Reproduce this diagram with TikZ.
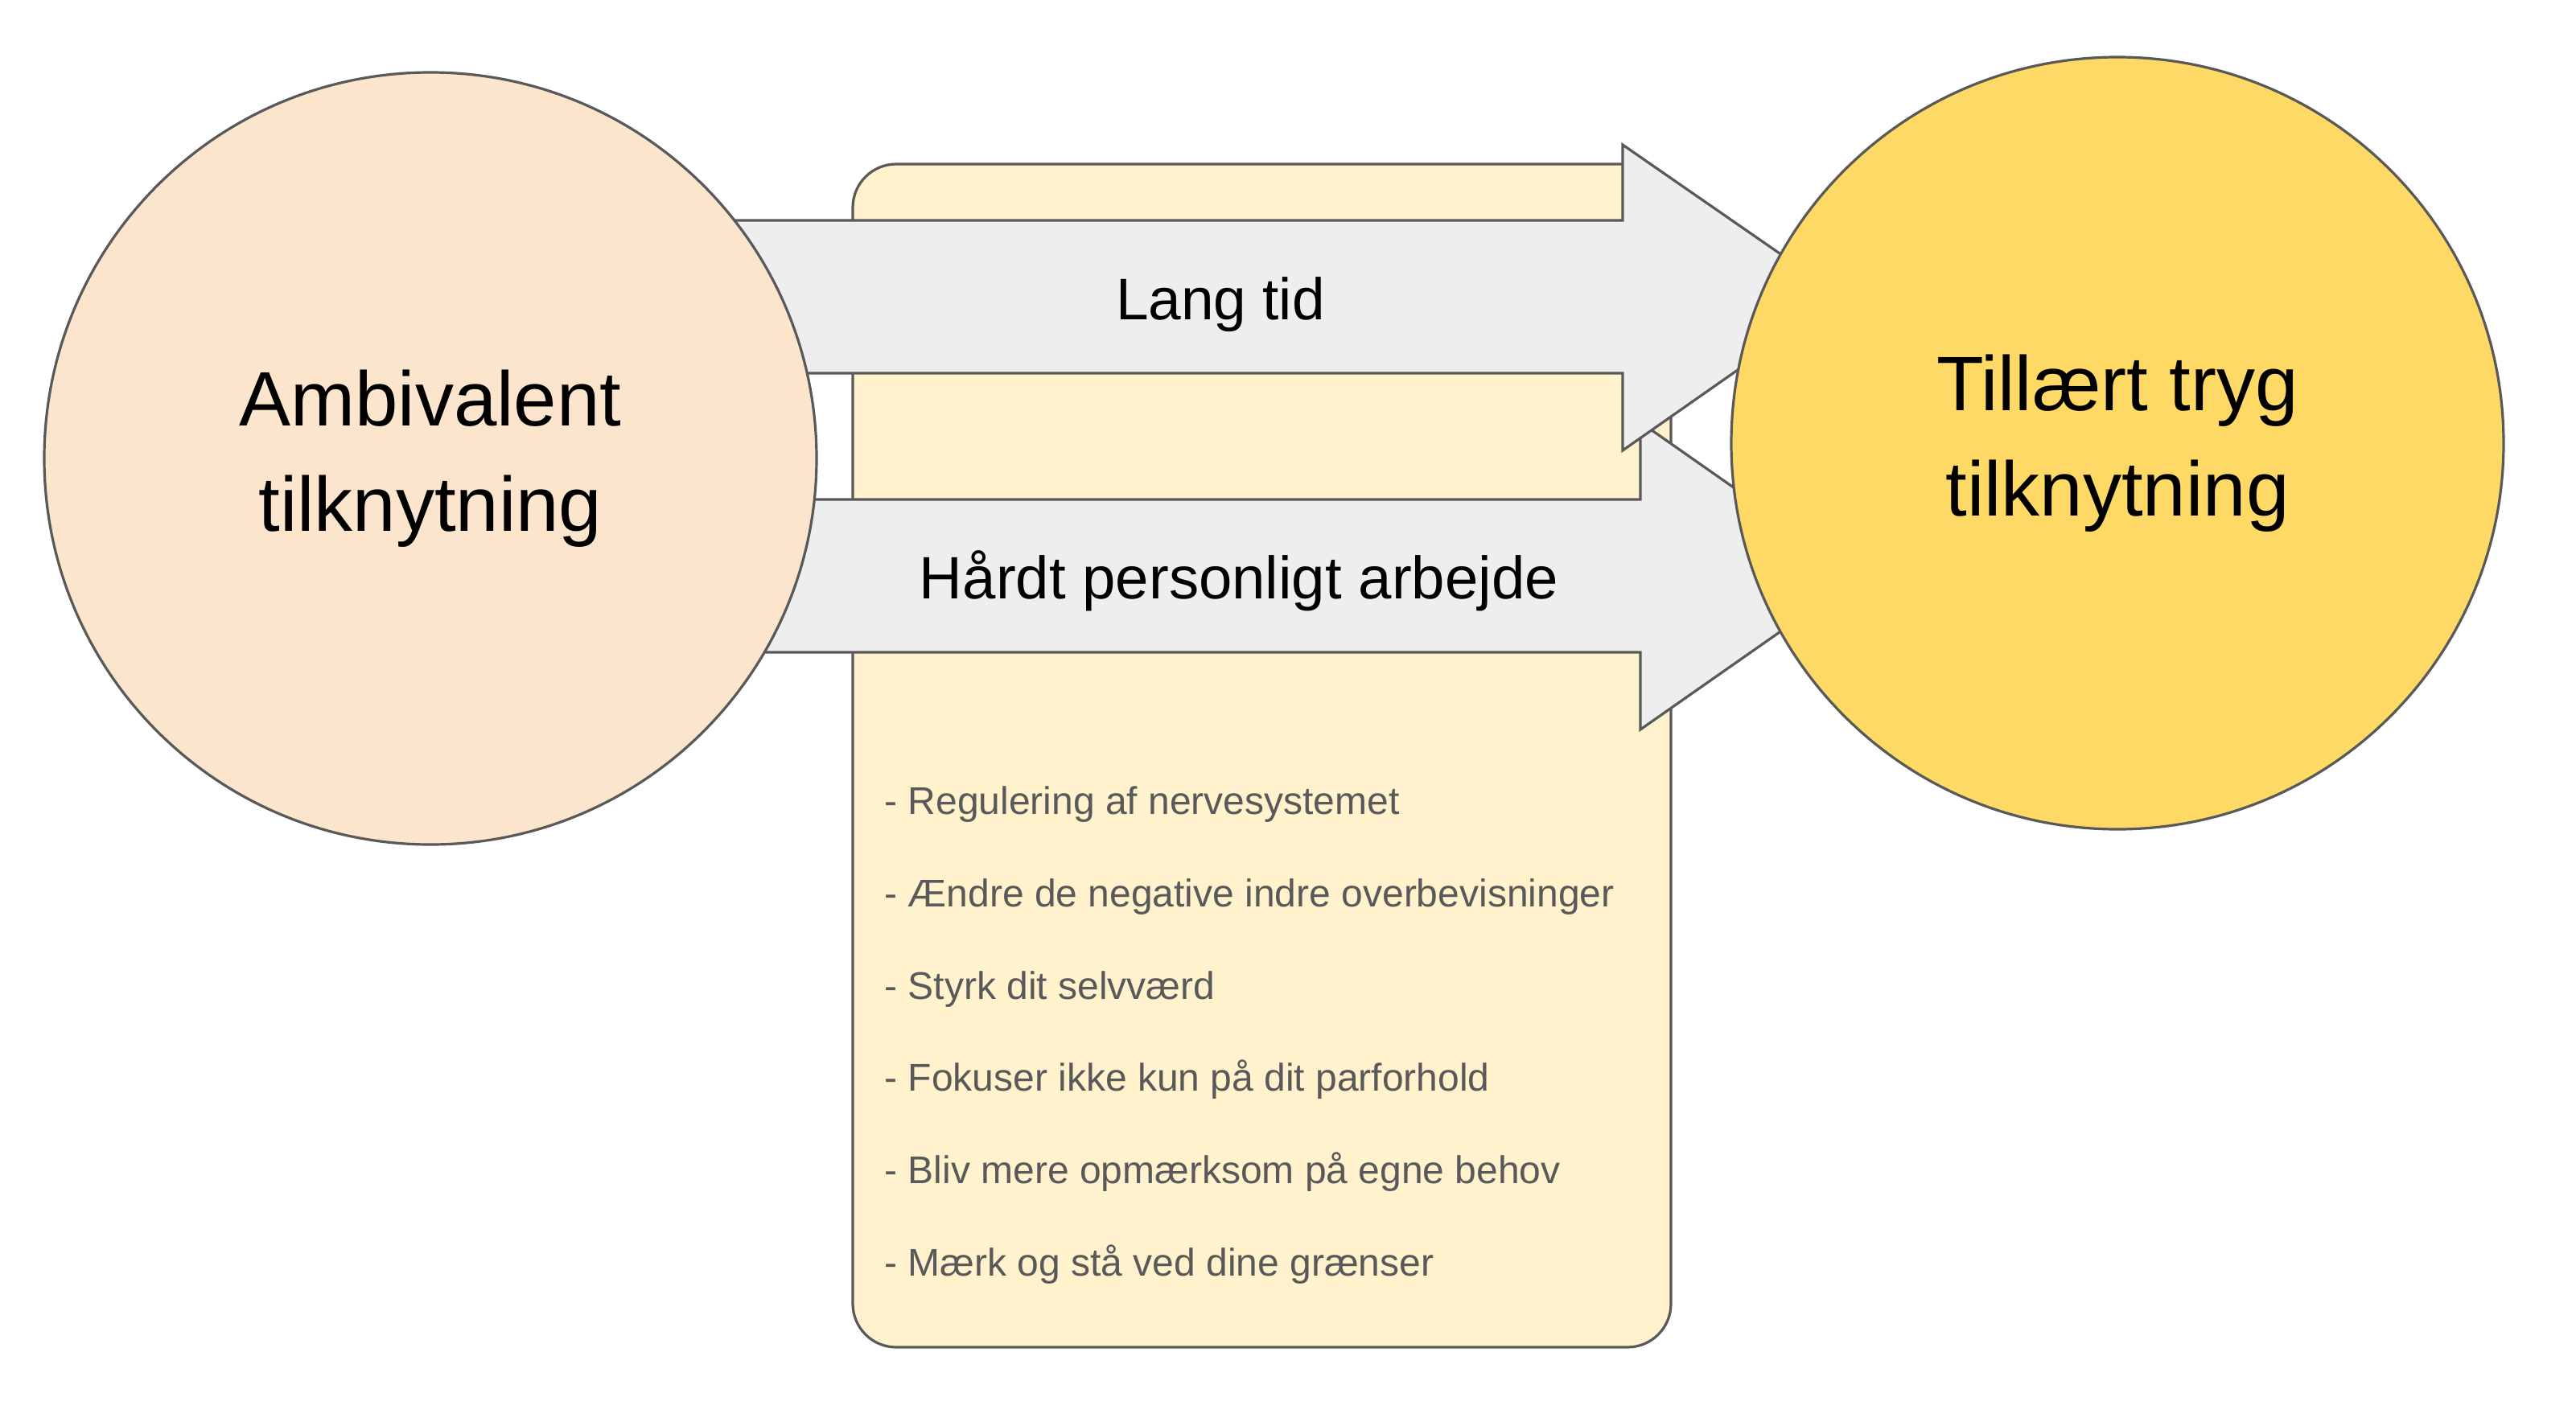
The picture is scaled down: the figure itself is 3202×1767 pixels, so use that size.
\documentclass[tikz,border=0pt]{standalone}
\usepackage{fontspec}
\setmainfont{Liberation Sans}
\definecolor{strokegray}{HTML}{595959}
\definecolor{arrowgray}{HTML}{EEEEEE}
\definecolor{panelyellow}{HTML}{FFF2CC}
\definecolor{peach}{HTML}{FCE5CD}
\definecolor{gold}{HTML}{FFD966}
\begin{document}
\begin{tikzpicture}[x=0.5pt,y=-0.5pt,
  outline/.style={draw=strokegray, line width=1.6pt},
  blockarrow/.style={outline, fill=arrowgray},
  panelbox/.style={outline, fill=panelyellow, rounded corners=27pt, minimum width=508.5pt, minimum height=735.5pt, inner sep=0pt},
  bigcircle/.style={circle, outline, minimum size=480pt, inner sep=0pt, align=center, font=\fontsize{48}{65.5}\selectfont},
  arrowlabel/.style={font=\fontsize{36.5}{44}\selectfont, anchor=base, inner sep=0pt},
  listitem/.style={font=\fontsize{24}{30}\selectfont, text=strokegray, anchor=base west, inner sep=0pt}]
\useasboundingbox (0,0) rectangle (3202,1767);

% background panel
\node[panelbox] (panel) at (1568.5,939.5) {};

% lower arrow
\coordinate (b1) at (768,621);
\coordinate (tip2) at (2312,716);
\draw[blockarrow] (b1) -- (2039,621) -- (2039,525) -- (tip2) -- (2039,907) -- (2039,811) -- (768,811) -- cycle;
\node[arrowlabel, font=\fontsize{37.2}{44}\selectfont] (lab2) at (1540,744) {Hårdt personligt arbejde};

% upper arrow
\coordinate (a1) at (745,274);
\coordinate (tip1) at (2290,369);
\draw[blockarrow] (a1) -- (2017,274) -- (2017,180) -- (tip1) -- (2017,560) -- (2017,464) -- (745,464) -- cycle;
\node[arrowlabel] (lab1) at (1517,397) {Lang tid};

% circles
\node[bigcircle, fill=peach] (amb) at (535,570) {Ambivalent\\tilknytning};
\node[bigcircle, fill=gold] (tryg) at (2632,551) {Tillært tryg\\tilknytning};

% list
\node[listitem] (i1) at (1099,1012) {- Regulering af nervesystemet};
\node[listitem] (i2) at (1099,1127) {- Ændre de negative indre overbevisninger};
\node[listitem] (i3) at (1099,1242) {- Styrk dit selvværd};
\node[listitem] (i4) at (1099,1356) {- Fokuser ikke kun på dit parforhold};
\node[listitem] (i5) at (1099,1471) {- Bliv mere opmærksom på egne behov};
\node[listitem] (i6) at (1099,1586) {- Mærk og stå ved dine grænser};
\end{tikzpicture}
\end{document}
